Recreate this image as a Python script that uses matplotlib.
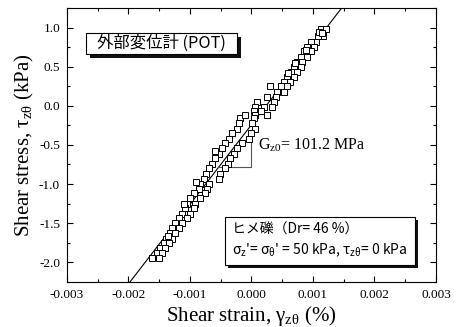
"""Shear stress - shear strain loop (external displacement gauge)."""

import matplotlib
matplotlib.use('Agg')
import matplotlib.pyplot as plt
from matplotlib.patches import Rectangle
from matplotlib.ticker import MultipleLocator

plt.rcParams['font.family'] = ['Liberation Serif', 'DejaVu Serif']
plt.rcParams['mathtext.fontset'] = 'stix'
plt.rcParams['mathtext.default'] = 'regular'

# measured points, strain in %, stress in kPa
strain = [0.001125, 0.001207, 0.001169, 0.001081, 0.001044, 0.000962, 0.000908, 0.001016,
          0.000853, 0.000962, 0.000799, 0.000908, 0.000745, 0.000826, 0.000690, 0.000799,
          0.000636, 0.000734, 0.000581, 0.000690, 0.000527, 0.000625, 0.000299, 0.000473,
          0.000571, 0.000419, 0.000527, 0.000255, 0.000391, 0.000092, 0.000364, 0.000065,
          0.000201, 0.000337, 0.000038, 0.000147, 0.000065, 0.000255, -0.000179, 0.000038,
          -0.000207, 0.000011, -0.000234, 0.000065, -0.000315, -0.000016, -0.000370, -0.000044,
          -0.000424, -0.000152, -0.000478, -0.000234, -0.000533, -0.000288, -0.000587, -0.000342,
          -0.000641, -0.000386, -0.000696, -0.000424, -0.000734, -0.000505, -0.000777, -0.000533,
          -0.000832, -0.000696, -0.000859, -0.000723, -0.000940, -0.000750, -0.000995, -0.000832,
          -0.001049, -0.000913, -0.001076, -0.000940, -0.001130, -0.000995, -0.001185, -0.001049,
          -0.001239, -0.001130, -0.001294, -0.001185, -0.001321, -0.001239, -0.001386, -0.001294,
          -0.001430, -0.001348, -0.001484, -0.001403, -0.001538, -0.001457, -0.001620, -0.001511,
          0.001100, 0.001150, 0.000880, 0.000700, 0.000600, -0.000100, -0.000600, -0.000900,
          -0.001100, -0.001350]
stress = [0.987, 0.987, 0.900, 0.900, 0.825, 0.825, 0.760, 0.760,
          0.700, 0.700, 0.630, 0.630, 0.570, 0.570, 0.500, 0.500,
          0.440, 0.440, 0.375, 0.375, 0.310, 0.310, 0.250, 0.250,
          0.250, 0.180, 0.180, 0.120, 0.120, 0.054, 0.054, -0.010,
          -0.010, -0.010, -0.070, -0.070, -0.115, -0.115, -0.160, -0.160,
          -0.220, -0.220, -0.290, -0.290, -0.350, -0.350, -0.420, -0.420,
          -0.480, -0.480, -0.540, -0.540, -0.610, -0.610, -0.670, -0.670,
          -0.740, -0.740, -0.800, -0.800, -0.870, -0.870, -0.930, -0.930,
          -1.000, -1.000, -1.060, -1.060, -1.120, -1.120, -1.180, -1.180,
          -1.250, -1.250, -1.310, -1.310, -1.380, -1.380, -1.440, -1.440,
          -1.500, -1.500, -1.570, -1.570, -1.630, -1.630, -1.700, -1.700,
          -1.760, -1.760, -1.820, -1.820, -1.890, -1.890, -1.950, -1.950,
          0.950, 0.930, 0.720, 0.550, 0.420, -0.120, -0.580, -0.980,
          -1.250, -1.660]

# fitted line (G = 101.2 MPa) and slope triangle
fit_x = [-0.0022, 0.0017]
fit_y = [-2.484, 1.494]
tri_x = [-0.00055, 0.0, 0.0]
tri_y = [-0.78, -0.78, -0.33]

xticks = [-0.003, -0.002, -0.001, 0.000, 0.001, 0.002, 0.003]
yticks = [-2.0, -1.5, -1.0, -0.5, 0.0, 0.5, 1.0]

fig = plt.figure(figsize=(4.57, 3.27), dpi=100)
ax = fig.add_axes([0.1466, 0.1376, 0.8074, 0.838])

ax.plot(fit_x, fit_y, color='black', linewidth=0.8, zorder=2)
ax.plot(strain, stress, linestyle='none', marker='s', markersize=4.2,
        markerfacecolor='white', markeredgecolor='black', markeredgewidth=0.7, zorder=3)
ax.plot(tri_x, tri_y, color='#555555', linewidth=0.8, zorder=2)

ax.text(0.0001, -0.5, r'G$_{z0}$= 101.2 MPa', fontsize=11.5, va='center', ha='left')

ax.set_xlim(-0.003, 0.003)
ax.set_ylim(-2.256, 1.256)
ax.set_xticks(xticks)
ax.set_xticklabels([f'{v:.3f}' for v in xticks])
ax.set_yticks(yticks)
ax.set_yticklabels([f'{v:.1f}' for v in yticks])
ax.xaxis.set_minor_locator(MultipleLocator(0.0005))
ax.yaxis.set_minor_locator(MultipleLocator(0.25))
ax.tick_params(which='both', direction='in', top=True, right=True, labelsize=9.5, width=0.8)
ax.tick_params(which='major', length=4, pad=5)
ax.tick_params(which='minor', length=2)
for s in ax.spines.values():
    s.set_linewidth(0.8)

ax.set_xlabel(r'Shear strain, $\gamma_{z\theta}$ (%)', fontsize=15, labelpad=2)
ax.set_ylabel(r'Shear stress, $\tau_{z\theta}$ (kPa)', fontsize=15, labelpad=2)

# boxed labels with shadow
def shadow_box(x0, y0, w, h, dx, dy):
    ax.add_patch(Rectangle((x0 + dx, y0 - dy), w, h, transform=ax.transAxes,
                           facecolor='#111111', edgecolor='none', zorder=4))
    ax.add_patch(Rectangle((x0, y0), w, h, transform=ax.transAxes,
                           facecolor='white', edgecolor='black', linewidth=0.8, zorder=5))

jp = ['Noto Sans CJK JP', 'DejaVu Sans']
shadow_box(0.0515, 0.832, 0.409, 0.077, 0.011, 0.015)
ax.text(0.256, 0.870, '外部変位計 (POT)', family=jp, fontsize=11.8,
        transform=ax.transAxes, ha='center', va='center', zorder=6)

shadow_box(0.428, 0.062, 0.515, 0.176, 0.008, 0.011)
ax.text(0.447, 0.19, 'ヒメ礫（Dr= 46 %）', family=jp, fontsize=10,
        transform=ax.transAxes, ha='left', va='center', zorder=6)
ax.text(0.447, 0.115, r"$\sigma_z$'= $\sigma_\theta$' = 50 kPa, $\tau_{z\theta}$= 0 kPa",
        family=jp, fontsize=10, transform=ax.transAxes, ha='left', va='center', zorder=6)

fig.savefig('out.png', dpi=100, facecolor='white')
plt.close(fig)
